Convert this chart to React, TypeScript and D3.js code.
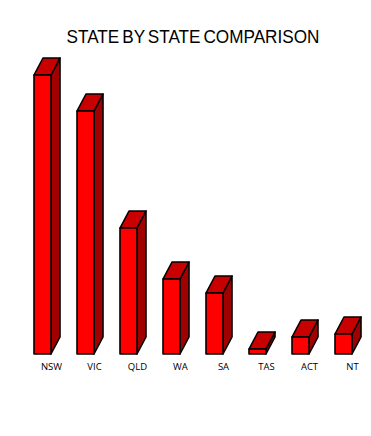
import React from "react";
import * as d3 from "d3";

const states = ["NSW", "VIC", "QLD", "WA", "SA", "TAS", "ACT", "NT"];
const values = [279, 243, 126, 75, 61, 5, 17, 20];
const title = "STATE BY STATE COMPARISON";

const W = 371;
const H = 436;
const DX = 9;
const DY = 17;

export default function App() {
  const x = d3.scaleBand<string>().domain(states).range([34, 352]).paddingInner(0.6047).paddingOuter(0);
  const y = d3.scaleLinear().domain([0, 279]).range([354, 75]);
  const bw = x.bandwidth();

  return (
    <svg width={W} height={H} style={{ position: "absolute", left: 0, top: 0, background: "#fff" }}>
      <text
        x={193}
        y={43}
        textAnchor="middle"
        fontFamily="'Liberation Sans', Arial, sans-serif"
        fontSize={18.5}
        wordSpacing={-2}
        textLength={253}
        lengthAdjust="spacingAndGlyphs"
        fill="#000"
      >
        {title}
      </text>
      {states.map((s, i) => {
        const x0 = x(s)!;
        const x1 = x0 + bw;
        const yb = y(0);
        const yt = y(values[i]);
        const path = d3.path();
        const side = `M${x1},${yt}L${x1 + DX},${yt - DY}L${x1 + DX},${yb - DY}L${x1},${yb}Z`;
        const top = `M${x0},${yt}L${x0 + DX},${yt - DY}L${x1 + DX},${yt - DY}L${x1},${yt}Z`;
        path.rect(x0, yt, bw, yb - yt);
        return (
          <g key={s} stroke="#000" strokeWidth={1.6} strokeLinejoin="round">
            <path d={side} fill="#A00000" />
            <path d={top} fill="#C80000" />
            <path d={path.toString()} fill="#FF0000" />
            <text
              x={x0 + bw / 2 + DX}
              y={369.5}
              textAnchor="middle"
              fontFamily="'Open Sans', 'Liberation Sans', sans-serif"
              fontSize={9.5}
              stroke="none"
              fill="#000"
            >
              {s}
            </text>
          </g>
        );
      })}
    </svg>
  );
}
